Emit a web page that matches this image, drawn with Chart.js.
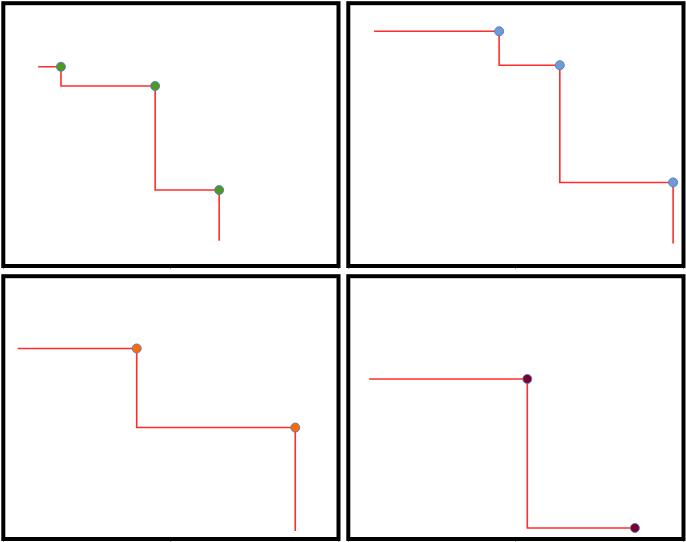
<!DOCTYPE html>
<html>
<head>
<meta charset="utf-8">
<script src="https://cdn.jsdelivr.net/npm/chart.js@4/dist/chart.umd.min.js"></script>
<style>
  html, body { margin: 0; padding: 0; background: #fff; }
  #wrap { position: relative; width: 686px; height: 542px; overflow: hidden; background: #fff; }
  canvas { position: absolute; }
</style>
</head>
<body>
<div id="wrap">
  <canvas id="c1" width="341" height="269" style="left:0px;top:0px"></canvas>
  <canvas id="c2" width="341" height="269" style="left:345px;top:0px"></canvas>
  <canvas id="c3" width="341" height="269" style="left:0px;top:273px"></canvas>
  <canvas id="c4" width="341" height="269" style="left:345px;top:273px"></canvas>
</div>
<script>
// Panel 1 (green markers)
const panel1Time   = [10.4, 17.2, 45.3, 64.4, 64.4];
const panel1Value  = [75.8, 75.8, 68.5, 28.9, 9.6];
const panel1Marked = [false, true, true, true, false];
// Panel 2 (light blue markers)
const panel2Time   = [7.7, 45.0, 63.1, 96.9, 96.9];
const panel2Value  = [89.3, 89.3, 76.4, 31.8, 8.6];
const panel2Marked = [false, true, true, true, false];
// Panel 3 (orange markers)
const panel3Time   = [4.3, 39.8, 87.1, 87.1];
const panel3Value  = [72.5, 72.5, 42.4, 3.0];
const panel3Marked = [false, true, true, false];
// Panel 4 (maroon markers)
const panel4Time   = [6.2, 53.4, 85.5];
const panel4Value  = [60.9, 60.9, 4.2];
const panel4Marked = [false, true, true];

const xTickValues = [0, 50, 100];

const panels = [
  { id: 'c1', t: panel1Time, v: panel1Value, m: panel1Marked, fill: '#4e9a1e' },
  { id: 'c2', t: panel2Time, v: panel2Value, m: panel2Marked, fill: '#6d9bd6' },
  { id: 'c3', t: panel3Time, v: panel3Value, m: panel3Marked, fill: '#ff6a00' },
  { id: 'c4', t: panel4Time, v: panel4Value, m: panel4Marked, fill: '#7a0028' }
];

const framePlugin = {
  id: 'frame',
  beforeDatasetsDraw(chart) {
    const a = chart.chartArea;
    const ctx = chart.ctx;
    ctx.save();
    ctx.strokeStyle = '#000';
    ctx.lineWidth = 4;
    ctx.strokeRect(a.left, a.top, a.right - a.left, a.bottom - a.top);
    ctx.restore();
  }
};

panels.forEach(p => {
  const data = p.t.map((x, i) => ({ x: x, y: p.v[i] }));
  new Chart(document.getElementById(p.id), {
    type: 'line',
    data: {
      datasets: [{
        data: data,
        stepped: 'after',
        borderColor: 'rgb(255,45,45)',
        borderWidth: 1.6,
        fill: false,
        pointRadius: p.m.map(f => f ? 4.5 : 0),
        pointHoverRadius: p.m.map(f => f ? 4.5 : 0),
        pointBackgroundColor: p.fill,
        pointBorderColor: '#5a7fbf',
        pointBorderWidth: 1
      }]
    },
    options: {
      responsive: false,
      animation: false,
      events: [],
      layout: { autoPadding: false, padding: { left: 3.3, right: 2.5, top: 3.2, bottom: 0 } },
      plugins: { legend: { display: false }, tooltip: { enabled: false } },
      scales: {
        x: {
          type: 'linear',
          min: 0, max: 100,
          z: 1,
          afterBuildTicks(scale) { scale.ticks = xTickValues.map(v => ({ value: v })); },
          ticks: { display: false },
          border: { display: false },
          grid: { drawOnChartArea: false, drawTicks: true, tickLength: 3, color: '#9a9a9a', lineWidth: 1 }
        },
        y: {
          type: 'linear',
          min: 0, max: 100,
          display: false
        }
      }
    },
    plugins: [framePlugin]
  });
});
</script>
</body>
</html>
